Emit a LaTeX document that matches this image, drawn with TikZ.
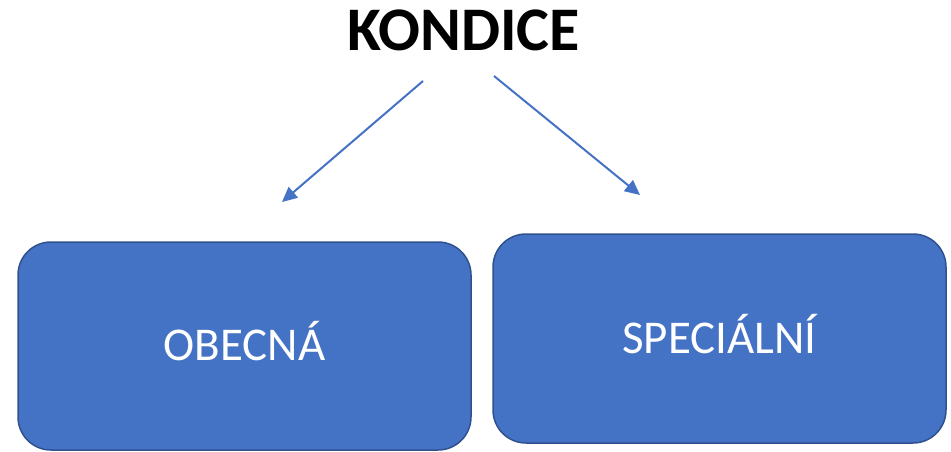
\documentclass[tikz,border=0pt]{standalone}
\usepackage{fontspec}
\setmainfont{Carlito}
\usetikzlibrary{arrows.meta}
\definecolor{boxfill}{HTML}{4472C4}
\definecolor{boxline}{HTML}{2F528F}
\begin{document}
\begin{tikzpicture}[x=1pt,y=-1pt,
  cbox/.style={draw=boxline, line width=1.5pt, fill=boxfill, rounded corners=33pt,
    minimum width=453pt, minimum height=208pt, inner sep=0pt,
    text=white, font=\fontsize{47}{52}\selectfont, text height=29pt, text depth=0pt},
  carrow/.style={draw=boxfill, line width=2pt, -{Triangle[length=15pt,width=14pt]}},
  title/.style={font=\fontsize{62}{68}\selectfont\bfseries, inner sep=0pt, text height=39pt, text depth=0pt}]
\useasboundingbox (0,0) rectangle (951,451);
\node[title] (t) at (463.5,31) {KONDICE};
\node[cbox] (ob) at (244.5,346) {OBECNÁ};
\node[cbox, minimum height=209pt] (sp) at (719.5,338.5) {SPECIÁLNÍ};
\coordinate (l1) at (423,81);
\coordinate (l2) at (282,202);
\coordinate (r1) at (494,76);
\coordinate (r2) at (640,195);
\draw[carrow] (l1) -- (l2);
\draw[carrow] (r1) -- (r2);
\end{tikzpicture}
\end{document}
